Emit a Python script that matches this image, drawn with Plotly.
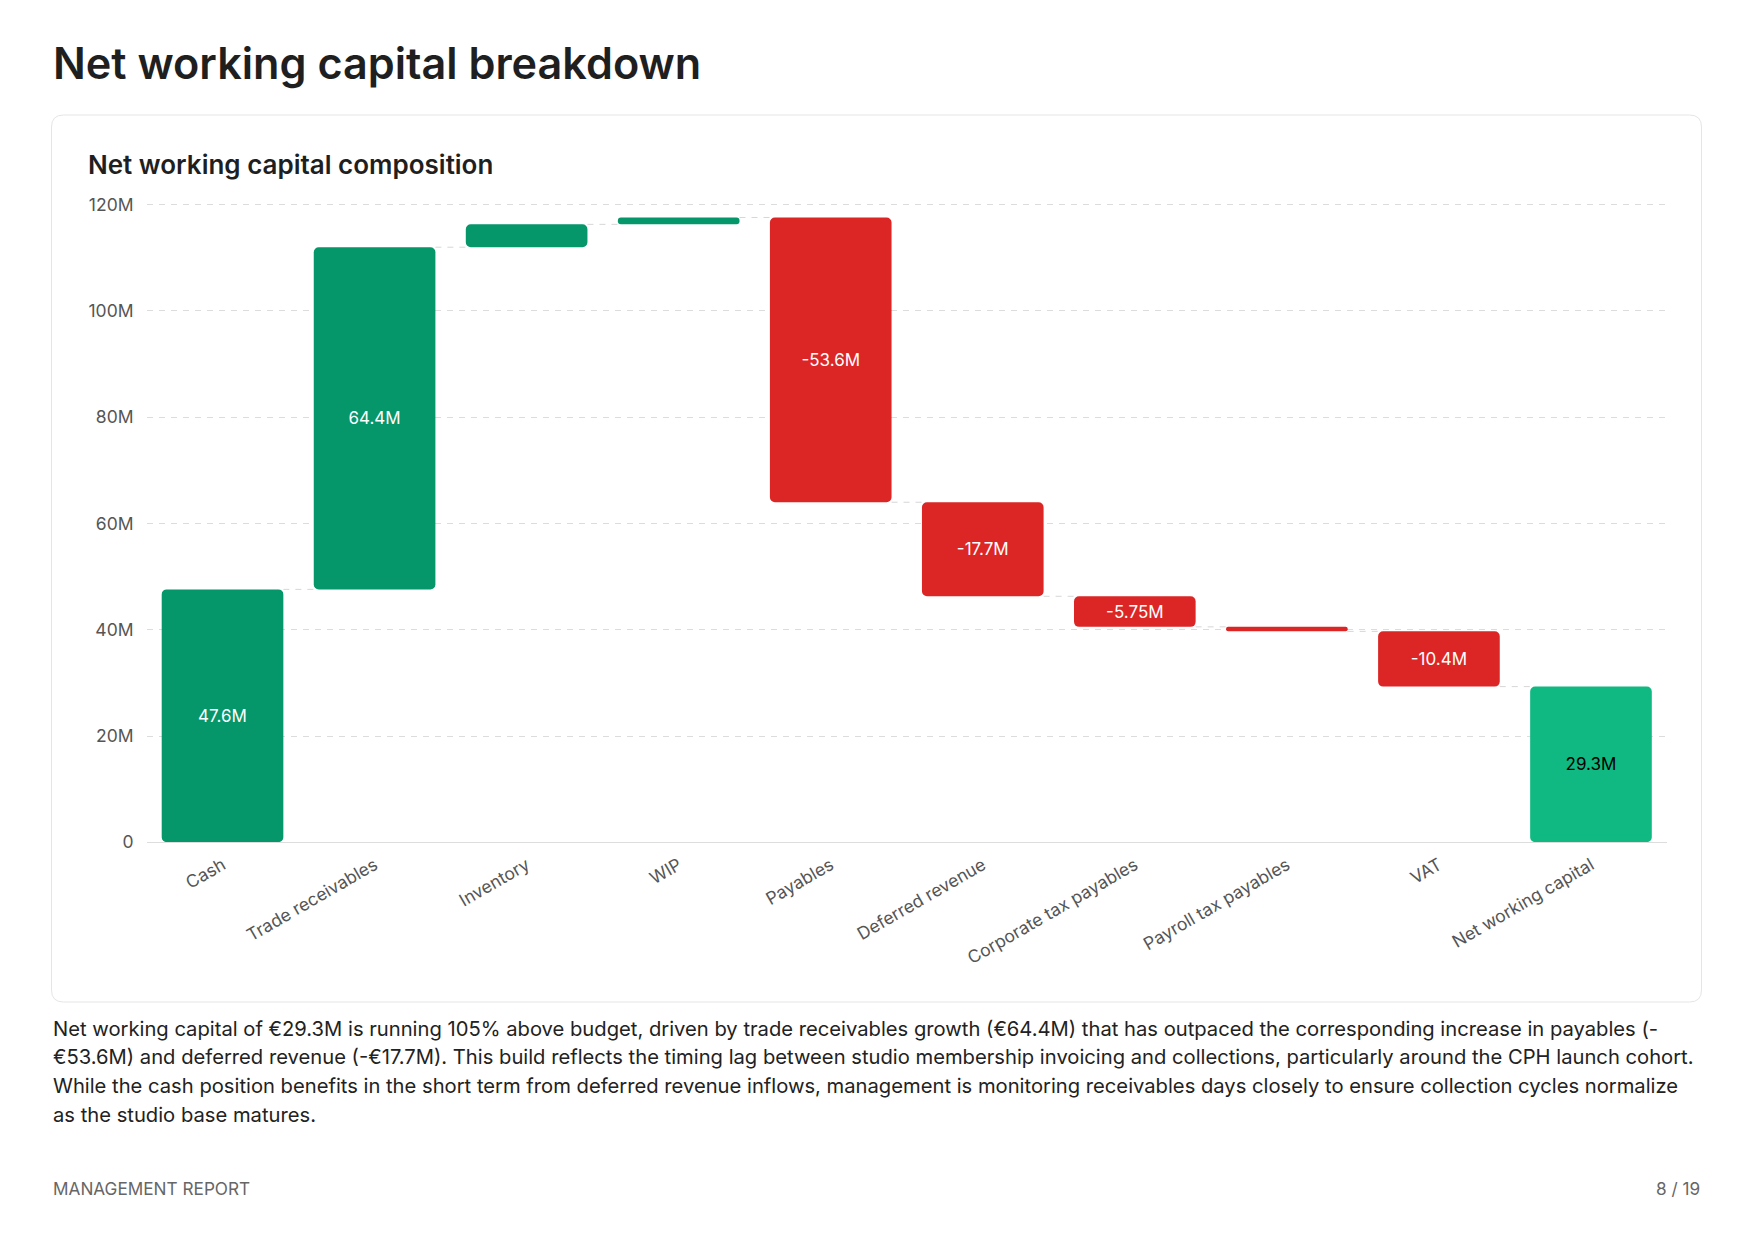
import plotly.graph_objects as go

# ---------------- data ----------------
categories = ["Cash", "Trade receivables", "Inventory", "WIP", "Payables",
              "Deferred revenue", "Corporate tax payables", "Payroll tax payables",
              "VAT", "Net working capital"]
values_m = [47.6, 64.4, 4.3, 1.3, -53.6, -17.7, -5.75, -0.85, -10.4, 29.3]
measures = ["absolute", "relative", "relative", "relative", "relative",
            "relative", "relative", "relative", "relative", "total"]
bar_labels = ["47.6M", "64.4M", "", "", "-53.6M", "-17.7M", "-5.75M", "", "-10.4M", "29.3M"]
y_tick_values = [0, 20, 40, 60, 80, 100, 120]
y_tick_labels = ["0", "20M", "40M", "60M", "80M", "100M", "120M"]

page_title = "Net working capital breakdown"
chart_title = "Net working capital composition"
paragraph_lines = [
    "Net working capital of €29.3M is running 105% above budget, driven by trade receivables growth (€64.4M) that has outpaced the corresponding increase in payables (-",
    "€53.6M) and deferred revenue (-€17.7M). This build reflects the timing lag between studio membership invoicing and collections, particularly around the CPH launch cohort.",
    "While the cash position benefits in the short term from deferred revenue inflows, management is monitoring receivables days closely to ensure collection cycles normalize",
    "as the studio base matures.",
]
footer_left = "MANAGEMENT REPORT"
footer_right = "8 / 19"

# ---------------- styling ----------------
W, H = 1754, 1241
FONT = "Inter"
GREEN = "#059669"
RED = "#DC2626"
TOTAL = "#10B981"


def fx(x):
    return x / W


def fy(y):
    return 1 - y / H


# ---------------- waterfall geometry via bases ----------------
bases, heights, colors, text_colors = [], [], [], []
running = 0.0
for v, m in zip(values_m, measures):
    if m == "absolute":
        bases.append(0.0)
        heights.append(v)
        running = v
        colors.append(GREEN)
        text_colors.append("white")
    elif m == "total":
        bases.append(0.0)
        heights.append(v)
        running = v
        colors.append(TOTAL)
        text_colors.append("#000000")
    else:
        bases.append(running)
        heights.append(v)
        running += v
        colors.append(GREEN if v >= 0 else RED)
        text_colors.append("white")

idx = list(range(len(categories)))
BW = 0.8

# connectors
cx, cy = [], []
for i in range(len(categories) - 1):
    level = bases[i] + heights[i]
    cx += [i + BW / 2, i + 1 - BW / 2, None]
    cy += [level, level, None]

fig = go.Figure()
fig.add_trace(go.Scatter(
    x=cx, y=cy, mode="lines",
    line=dict(color="#d6d6d6", width=1, dash="6px,6px"),
    hoverinfo="skip", showlegend=False,
))
fig.add_trace(go.Bar(
    x=idx, y=heights, base=bases, width=BW,
    marker=dict(color=colors, cornerradius=5, line=dict(width=0)),
    text=bar_labels, textposition="inside", insidetextanchor="middle",
    textangle=0,
    textfont=dict(family=FONT, size=17, color=text_colors),
    showlegend=False,
    hovertemplate="%{customdata}<extra></extra>",
    customdata=categories,
))

# card
L, R, T, B, rad = 51.5, 1701.5, 115, 1002, 12
card_path = (
    f"M {fx(L+rad)},{fy(T)} L {fx(R-rad)},{fy(T)} Q {fx(R)},{fy(T)} {fx(R)},{fy(T+rad)} "
    f"L {fx(R)},{fy(B-rad)} Q {fx(R)},{fy(B)} {fx(R-rad)},{fy(B)} "
    f"L {fx(L+rad)},{fy(B)} Q {fx(L)},{fy(B)} {fx(L)},{fy(B-rad)} "
    f"L {fx(L)},{fy(T+rad)} Q {fx(L)},{fy(T)} {fx(L+rad)},{fy(T)} Z"
)

shapes = [dict(type="path", path=card_path, xref="paper", yref="paper",
               line=dict(color="#e5e5e5", width=1), fillcolor="white", layer="below")]

annotations = [
    dict(text=page_title, x=fx(51), y=fy(63), xref="paper", yref="paper",
         xanchor="left", yanchor="middle", showarrow=False,
         font=dict(family=FONT, size=43.2, color="#1f1f1f", weight=600)),
    dict(text=chart_title, x=fx(86), y=fy(165), xref="paper", yref="paper",
         xanchor="left", yanchor="middle", showarrow=False,
         font=dict(family=FONT, size=26, color="#1f1f1f", weight=600)),
    dict(text=footer_left, x=fx(51), y=fy(1188), xref="paper", yref="paper",
         xanchor="left", yanchor="middle", showarrow=False,
         font=dict(family=FONT, size=17.2, color="#666666")),
    dict(text=footer_right, x=fx(1702), y=fy(1188), xref="paper", yref="paper",
         xanchor="right", yanchor="middle", showarrow=False,
         font=dict(family=FONT, size=17.2, color="#666666")),
]
for k, line in enumerate(paragraph_lines):
    annotations.append(dict(
        text=line, x=fx(51), y=fy(1028 + k * 28.7), xref="paper", yref="paper",
        xanchor="left", yanchor="middle", showarrow=False,
        font=dict(family=FONT, size=20.2, color="#222222")))

PX_PER_M = (842.3 - 204.7) / 120.0
Y_TOP = 120.4

fig.update_layout(
    width=W, height=H,
    margin=dict(l=0, r=0, t=0, b=0),
    paper_bgcolor="white", plot_bgcolor="rgba(0,0,0,0)",
    barmode="overlay",
    shapes=shapes, annotations=annotations,
    font=dict(family=FONT),
    xaxis=dict(
        domain=[fx(146.5), fx(1667)],
        range=[-0.5, len(categories) - 0.5],
        tickmode="array", tickvals=idx, ticktext=categories,
        tickangle=-30, showgrid=False, zeroline=False,
        showline=True, linecolor="#dddddd", linewidth=1,
        ticks="", ticklabelstandoff=5,
        tickfont=dict(family=FONT, size=17.5, color="#555555"),
        automargin=False, fixedrange=True,
    ),
    yaxis=dict(
        domain=[fy(842.3), fy(842.3 - Y_TOP * PX_PER_M)],
        range=[0, Y_TOP],
        tickmode="array", tickvals=y_tick_values, ticktext=y_tick_labels,
        showgrid=True, gridcolor="#dcdcdc", griddash="6px,6px", gridwidth=1,
        zeroline=False, showline=False, ticks="",
        ticklabelstandoff=12,
        tickfont=dict(family=FONT, size=17.5, color="#555555"),
        automargin=False, fixedrange=True,
    ),
)

fig.write_html("out.html")
